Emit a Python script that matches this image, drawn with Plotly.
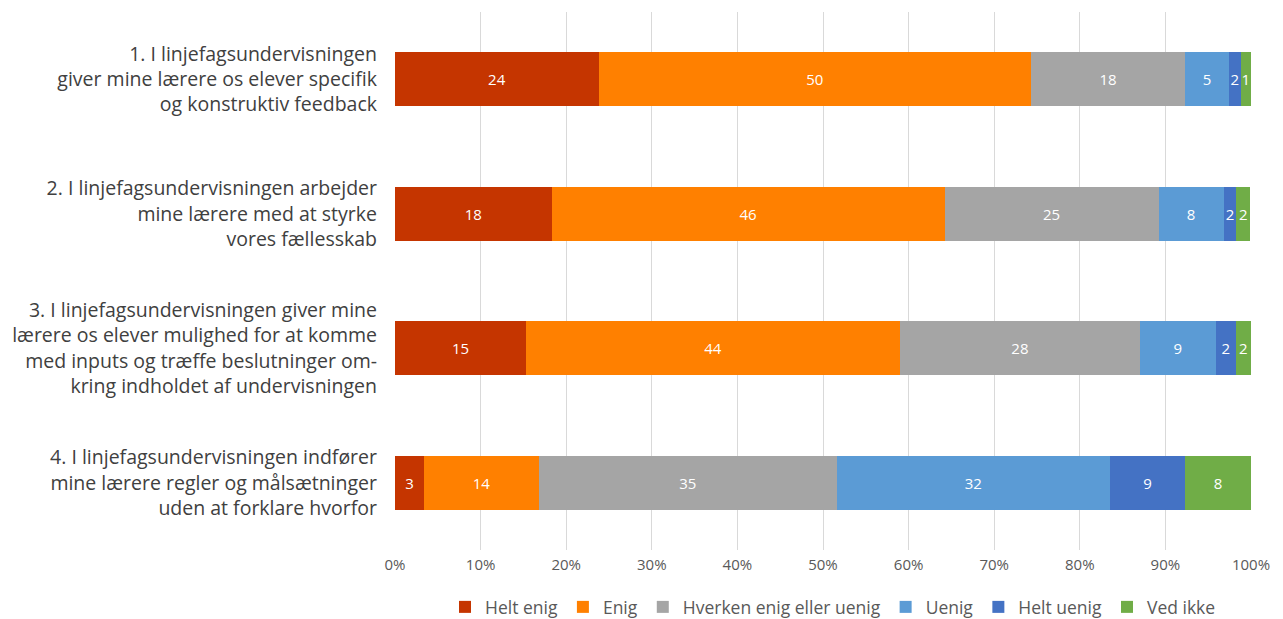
import plotly.graph_objects as go

categories = [
    "1. I linjefagsundervisningen<br>giver mine lærere os elever specifik<br>og konstruktiv feedback",
    "2. I linjefagsundervisningen arbejder<br>mine lærere med at styrke<br>vores fællesskab",
    "3. I linjefagsundervisningen giver mine<br>lærere os elever mulighed for at komme<br>med inputs og træffe beslutninger om-<br>kring indholdet af undervisningen",
    "4. I linjefagsundervisningen indfører<br>mine lærere regler og målsætninger<br>uden at forklare hvorfor",
]

series_names = ["Helt enig", "Enig", "Hverken enig eller uenig", "Uenig", "Helt uenig", "Ved ikke"]
colors = ["#C53500", "#FF8000", "#A5A5A5", "#5B9BD5", "#4472C4", "#70AD47"]

helt_enig = [23.8, 18.3, 15.3, 3.4]
enig = [50.5, 45.9, 43.7, 13.4]
hverken = [18.0, 25.0, 28.0, 34.8]
uenig = [5.1, 7.6, 8.9, 31.9]
helt_uenig = [1.4, 1.5, 2.3, 8.8]
ved_ikke = [1.2, 1.6, 1.8, 7.7]

labels_helt_enig = ["24", "18", "15", "3"]
labels_enig = ["50", "46", "44", "14"]
labels_hverken = ["18", "25", "28", "35"]
labels_uenig = ["5", "8", "9", "32"]
labels_helt_uenig = ["2", "2", "2", "9"]
labels_ved_ikke = ["1", "2", "2", "8"]

values = [helt_enig, enig, hverken, uenig, helt_uenig, ved_ikke]
labels = [labels_helt_enig, labels_enig, labels_hverken, labels_uenig, labels_helt_uenig, labels_ved_ikke]

font_family = "Open Sans, Noto Sans, sans-serif"

fig = go.Figure()
for name, col, vals, labs in zip(series_names, colors, values, labels):
    fig.add_trace(go.Bar(
        y=categories, x=[v / 100 for v in vals], name=name, orientation="h",
        marker=dict(color=col, line=dict(width=0)),
        text=labs, textposition="inside", insidetextanchor="middle",
        textfont=dict(color="white", size=15, family=font_family),
        cliponaxis=False,
    ))

# page body has an 8px default margin; margins below compensate for it
fig.update_layout(
    barmode="stack",
    bargap=0.6,
    width=1283, height=619,
    margin=dict(l=387, r=40, t=4, b=77, autoexpand=False),
    paper_bgcolor="white", plot_bgcolor="white",
    font=dict(family=font_family, color="#404040"),
    uniformtext=dict(minsize=15, mode="show"),
    legend=dict(orientation="h", x=(445 - 8 - 387) / 856, xanchor="left",
                y=-(599 - 542) / 538, yanchor="middle",
                font=dict(size=17.5, color="#595959"), traceorder="normal",
                itemwidth=30, tracegroupgap=0),
    xaxis=dict(range=[0, 1], tickformat=".0%", dtick=0.1, showgrid=True,
               gridcolor="#D9D9D9", gridwidth=1, zeroline=False, showline=False,
               tickfont=dict(size=15, color="#595959"), ticks="", ticklabelstandoff=4,
               automargin=False),
    yaxis=dict(autorange="reversed", showgrid=False, zeroline=False, showline=False,
               tickfont=dict(size=19.5, color="#404040"), ticks="", ticklabelstandoff=17,
               automargin=False),
)

fig.write_html("out.html")
